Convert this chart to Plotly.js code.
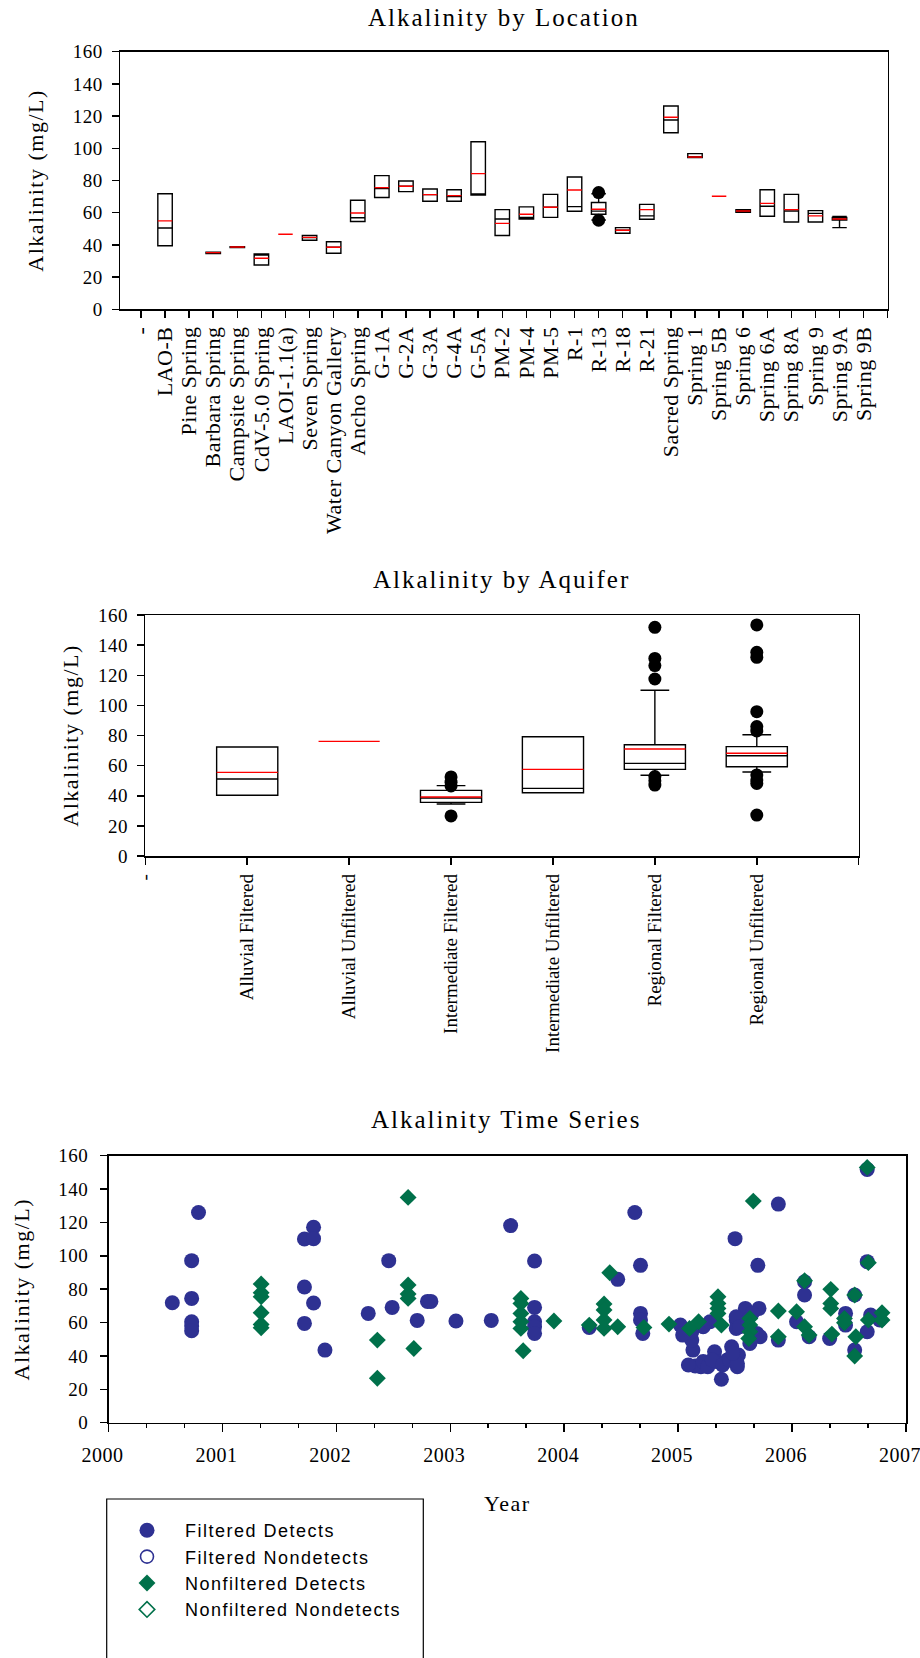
<!DOCTYPE html>
<html>
<head>
<meta charset="utf-8">
<script src="https://cdn.plot.ly/plotly-3.0.1.min.js"></script>
<style>
  html, body { margin: 0; padding: 0; background: #fff; }
  #chart { width: 920px; height: 1658px; }
  text[class*="title"] { letter-spacing: 1.5px; }
  .annotation-text { letter-spacing: 2px; }
  .legendtext { letter-spacing: 1.5px; }
  .xtick text { letter-spacing: 0.5px; }
  .ytick text, .y2tick text, .y3tick text, .x3tick text { letter-spacing: 0.5px; }
</style>
</head>
<body>
<div id="chart"></div>
<script>
// ---------- Alkalinity by Location ----------
const locations = ["-", "LAO-B", "Pine Spring", "Barbara Spring", "Campsite Spring", "CdV-5.0 Spring",
  "LAOI-1.1(a)", "Seven Spring", "Water Canyon Gallery", "Ancho Spring", "G-1A", "G-2A", "G-3A", "G-4A",
  "G-5A", "PM-2", "PM-4", "PM-5", "R-1", "R-13", "R-18", "R-21", "Sacred Spring", "Spring 1",
  "Spring 5B", "Spring 6", "Spring 6A", "Spring 8A", "Spring 9", "Spring 9A", "Spring 9B"];
const locQ1 =     [null, 39.5, null, 34.6, 38.3, 27.5, null, 42.9, 34.8, 54.5, 69.4, 73.1, 67.1, 67.1, 71.0, 45.8, 56.1, 57.1, 60.9, 59.0, 47.2, 55.9, 109.7, 94.2, null, 60.2, 57.8, 54.2, 54.2, 55.5, null];
const locMedian = [null, 50.5, null, 35.0, 38.6, 33.7, null, 44.5, 38.5, 56.9, 75.0, 76.4, 71.2, 70.0, 71.2, 56.1, 57.0, 63.4, 63.8, 61.0, 49.1, 58.0, 117.6, 94.6, null, 61.1, 64.0, 61.1, 59.6, 56.1, null];
const locQ3 =     [null, 71.8, null, 35.4, 38.9, 34.4, null, 45.8, 42.0, 67.7, 83.0, 79.7, 74.7, 74.3, 104.1, 61.9, 63.6, 71.4, 82.2, 66.3, 50.7, 65.2, 126.3, 96.7, null, 61.9, 74.3, 71.4, 61.3, 57.1, null];
const locLowerWhisker = [null, 39.5, null, 34.6, 38.3, 27.5, null, 42.9, 34.8, 54.5, 69.4, 73.1, 67.1, 67.1, 71.0, 45.8, 56.1, 57.1, 60.9, 55.5, 47.2, 55.9, 109.7, 94.2, null, 60.2, 57.8, 54.2, 54.2, 50.7, null];
const locUpperWhisker = [null, 71.8, null, 35.4, 38.9, 34.4, null, 45.8, 42.0, 67.7, 83.0, 79.7, 74.7, 74.3, 104.1, 61.9, 63.6, 71.4, 82.2, 71.8, 50.7, 65.2, 126.3, 96.7, null, 61.9, 74.3, 71.4, 61.3, 57.6, null];
const locMean =   [null, 54.9, null, 35.2, 38.7, 31.7, 46.6, 44.7, 38.5, 59.8, 75.6, 76.4, 71.2, 70.6, 84.3, 53.4, 59.0, 63.4, 74.1, 62.1, 49.1, 61.9, 119.3, 94.6, 70.2, 61.1, 65.8, 61.9, 58.0, 56.1, null];
const locOutlierSite =  ["R-13", "R-13"];
const locOutlierValue = [72.5, 55.3];

// ---------- Alkalinity by Aquifer ----------
const aquifers = ["-", "Alluvial Filtered", "Alluvial Unfiltered", "Intermediate Filtered",
  "Intermediate Unfiltered", "Regional Filtered", "Regional Unfiltered"];
const aqQ1 =     [null, 40.3, null, 35.6, 42.0, 57.5, 59.3];
const aqMedian = [null, 51.1, null, 38.5, 44.9, 61.5, 66.6];
const aqQ3 =     [null, 72.4, null, 43.6, 79.2, 73.9, 72.6];
const aqLowerWhisker = [null, 40.3, null, 34.5, 42.0, 53.6, 55.8];
const aqUpperWhisker = [null, 72.4, null, 46.7, 79.2, 110.0, 80.5];
const aqMean =   [null, 55.5, 76.1, 39.2, 57.5, 71.0, 68.2];
const aqOutlierGroup = ["Intermediate Filtered", "Intermediate Filtered", "Intermediate Filtered", "Intermediate Filtered",
  "Regional Filtered", "Regional Filtered", "Regional Filtered", "Regional Filtered", "Regional Filtered", "Regional Filtered", "Regional Filtered",
  "Regional Unfiltered", "Regional Unfiltered", "Regional Unfiltered", "Regional Unfiltered", "Regional Unfiltered",
  "Regional Unfiltered", "Regional Unfiltered", "Regional Unfiltered", "Regional Unfiltered", "Regional Unfiltered"];
const aqOutlierValue = [52.5, 49.0, 46.5, 26.6,
  151.8, 131.2, 126.4, 117.5, 52.7, 50.0, 47.1,
  153.4, 135.2, 131.9, 95.8, 85.9, 83.0, 53.8, 50.5, 48.2, 27.2];

// ---------- Alkalinity Time Series ----------
const years = [2000, 2001, 2002, 2003, 2004, 2005, 2006, 2007];
const filteredYear = [2000.56, 2000.73, 2000.73, 2000.73, 2000.73, 2000.73, 2000.79,
  2001.72, 2001.80, 2001.80, 2001.72, 2001.80, 2001.72, 2001.90,
  2002.28, 2002.46, 2002.49, 2002.71, 2002.80, 2002.83, 2003.05,
  2003.36, 2003.53, 2003.74, 2003.74, 2003.74, 2003.74, 2003.74,
  2004.22, 2004.47, 2004.62, 2004.67, 2004.67, 2004.67, 2004.69,
  2005.02, 2005.04, 2005.13, 2005.15, 2005.20, 2005.22, 2005.32, 2005.34, 2005.38, 2005.43, 2005.47,
  2005.50, 2005.51, 2005.51, 2005.53, 2005.52, 2005.59, 2005.70, 2005.71, 2005.69, 2005.72, 2005.63,
  2005.09, 2005.26, 2005.30, 2005.39, 2005.45, 2005.52, 2005.48, 2005.12, 2005.22, 2005.28, 2005.51,
  2005.54, 2005.65, 2005.61, 2005.12, 2005.05,
  2005.88, 2005.88, 2006.04, 2006.11, 2006.11, 2006.15, 2006.33, 2006.47, 2006.47, 2006.55, 2006.55,
  2006.66, 2006.66, 2006.66, 2006.69, 2006.77];
const filteredValue = [71.9, 97.1, 74.5, 60.5, 57.9, 55.1, 126.0,
  110.1, 117.1, 110.3, 81.3, 71.7, 59.5, 43.5,
  65.5, 97.1, 69.1, 61.3, 72.7, 72.7, 60.9,
  61.3, 118.1, 96.9, 69.1, 60.5, 57.5, 53.5,
  57.1, 85.9, 126.0, 94.3, 65.5, 61.5, 53.5,
  58.5, 52.5, 43.5, 34.0, 33.6, 36.6, 42.5, 36.6, 26.0, 37.6, 45.5,
  110.3, 61.5, 56.5, 40.6, 33.6, 68.5, 94.3, 68.5, 53.5, 51.5, 47.5,
  34.6, 33.6, 37.6, 34.6, 37.6, 35.6, 41.6, 49.5, 57.5, 60.5, 63.5,
  57.5, 65.5, 61.5, 54.5, 53.5,
  131.0, 49.5, 60.5, 84.5, 76.5, 51.5, 50.5, 65.5, 58.5, 76.5, 43.5,
  151.8, 96.5, 54.5, 64.5, 61.5];
const unfilteredYear = [2001.34, 2001.34, 2001.34, 2001.34, 2001.34, 2001.34,
  2002.36, 2002.36, 2002.63, 2002.63, 2002.63, 2002.63, 2002.68,
  2003.62, 2003.62, 2003.62, 2003.62, 2003.62, 2003.64, 2003.91,
  2004.22, 2004.35, 2004.35, 2004.35, 2004.35, 2004.40, 2004.47, 2004.70, 2004.92,
  2005.10, 2005.18, 2005.35, 2005.35, 2005.35, 2005.35, 2005.38,
  2005.66, 2005.63, 2005.63, 2005.63, 2005.62, 2005.88, 2005.88,
  2006.04, 2006.11, 2006.11, 2006.15, 2006.34, 2006.34, 2006.34, 2006.35,
  2006.46, 2006.46, 2006.55, 2006.56, 2006.55, 2006.66, 2006.67, 2006.67, 2006.79, 2006.79];
const unfilteredValue = [83.1, 77.9, 75.5, 65.9, 58.9, 56.9,
  49.5, 26.6, 135.0, 82.5, 77.1, 74.5, 44.5,
  74.5, 71.5, 65.5, 60.5, 56.5, 43.1, 60.9,
  58.5, 71.1, 67.5, 61.5, 56.5, 89.9, 57.5, 57.1, 59.1,
  56.5, 60.5, 75.5, 71.5, 68.5, 65.5, 58.5,
  132.8, 62.5, 58.5, 54.5, 50.5, 66.9, 51.5,
  66.5, 85.1, 57.5, 52.5, 79.9, 71.5, 68.5, 53.1,
  62.5, 59.9, 76.5, 51.5, 40.0, 153.0, 95.9, 61.5, 65.9, 61.5];
// Nondetect series exist in the legend but carry no measured points
const filteredNondetectYear = [null], filteredNondetectValue = [null];
const unfilteredNondetectYear = [null], unfilteredNondetectValue = [null];
const legendNames = ["Filtered Detects", "Filtered Nondetects", "Nonfiltered Detects", "Nonfiltered Nondetects"];

// ---------- helpers ----------
const BLUE = "#2e3192", GREEN = "#00704a", RED = "#ff0000";
const SERIF = "Liberation Serif";
function boxTrace(q1, med, q3, lo, hi, xa, ya, ww) {
  const idx = q1.map((v, i) => v === null ? -1 : i).filter(i => i >= 0);
  return {
    type: "box", xaxis: xa, yaxis: ya, showlegend: false, hoverinfo: "skip",
    x: idx, q1: idx.map(i => q1[i]), median: idx.map(i => med[i]), q3: idx.map(i => q3[i]),
    lowerfence: idx.map(i => lo[i]), upperfence: idx.map(i => hi[i]),
    width: 0.6, whiskerwidth: ww, boxpoints: false,
    line: {color: "#000", width: 1.4}, fillcolor: "rgba(0,0,0,0)"
  };
}
function meanTrace(mean, xa, ya) {
  const xs = [], ys = [];
  mean.forEach((m, i) => { if (m !== null) { xs.push(i - 0.3, i + 0.3, null); ys.push(m, m, null); } });
  return {type: "scatter", mode: "lines", x: xs, y: ys, xaxis: xa, yaxis: ya, showlegend: false,
    hoverinfo: "skip", line: {color: RED, width: 1.4}};
}
function outlierTrace(groups, values, cats, xa, ya) {
  return {type: "scatter", mode: "markers", x: groups.map(g => cats.indexOf(g)), y: values,
    xaxis: xa, yaxis: ya, showlegend: false, hoverinfo: "skip",
    marker: {color: "#000", size: 13, symbol: "circle"}};
}

const traces = [
  boxTrace(locQ1, locMedian, locQ3, locLowerWhisker, locUpperWhisker, "x", "y", 1),
  meanTrace(locMean, "x", "y"),
  outlierTrace(locOutlierSite, locOutlierValue, locations, "x", "y"),
  boxTrace(aqQ1, aqMedian, aqQ3, aqLowerWhisker, aqUpperWhisker, "x2", "y2", 0.47),
  meanTrace(aqMean, "x2", "y2"),
  outlierTrace(aqOutlierGroup, aqOutlierValue, aquifers, "x2", "y2"),
  {type: "scatter", mode: "markers", name: legendNames[0], x: filteredYear, y: filteredValue,
   xaxis: "x3", yaxis: "y3", marker: {color: BLUE, size: 15, symbol: "circle"}},
  {type: "scatter", mode: "markers", name: legendNames[1], x: filteredNondetectYear, y: filteredNondetectValue,
   xaxis: "x3", yaxis: "y3", marker: {color: BLUE, size: 13, symbol: "circle-open", line: {width: 1.6}}},
  {type: "scatter", mode: "markers", name: legendNames[2], x: unfilteredYear, y: unfilteredValue,
   xaxis: "x3", yaxis: "y3", marker: {color: GREEN, size: 13, symbol: "diamond"}},
  {type: "scatter", mode: "markers", name: legendNames[3], x: unfilteredNondetectYear, y: unfilteredNondetectValue,
   xaxis: "x3", yaxis: "y3", marker: {color: GREEN, size: 12, symbol: "diamond-open", line: {width: 1.6}}}
];

const H = 1658, W = 920;
const px = v => v / W, py = v => 1 - v / H;
function axisBase(fontSize) {
  return {showline: true, mirror: true, linecolor: "#000", linewidth: 1.5, ticks: "outside",
    ticklen: 7, tickcolor: "#000", tickwidth: 1.5, showgrid: false, zeroline: false,
    tickfont: {family: SERIF, size: fontSize, color: "#000"}};
}
function yAxis(domain, anchor, standoff, labelGap) {
  return Object.assign(axisBase(19), {domain: domain, anchor: anchor, range: [0, 160], dtick: 20, tick0: 0,
    ticklabelstandoff: labelGap,
    title: {text: "Alkalinity (mg/L)", standoff: standoff, font: {family: SERIF, size: 22, color: "#000"}}});
}

const topTicks = locations.map((_, i) => i).concat([31]);
const midTicks = aquifers.map((_, i) => i).concat([7]);
const titleFont = {family: SERIF, size: 25, color: "#000"};

const layout = {
  width: W, height: H, margin: {l: 0, r: 0, t: 0, b: 0},
  paper_bgcolor: "#fff", plot_bgcolor: "#fff",
  font: {family: SERIF, color: "#000"},
  xaxis: Object.assign(axisBase(22), {domain: [px(120), px(887.7)], anchor: "y", range: [-0.87, 31],
    tickmode: "array", tickvals: topTicks, ticktext: locations.concat([""]), tickangle: -90, ticklabelstandoff: 0}),
  yaxis: yAxis([py(309.3), py(51.7)], "x", 23, 5),
  xaxis2: Object.assign(axisBase(19), {domain: [px(145.3), px(858.7)], anchor: "y2", range: [0, 7],
    tickmode: "array", tickvals: midTicks, ticktext: aquifers.concat([""]), tickangle: -90, ticklabelstandoff: 2}),
  yaxis2: yAxis([py(856), py(615)], "x2", 13, 5),
  xaxis3: Object.assign(axisBase(20), {domain: [px(108.5), px(906)], anchor: "y3", range: [2000, 2007.0005],
    tickmode: "array", tickvals: years, ticktext: years.map(String), ticklen: 8, ticklabelstandoff: 6,
    ticklabelshift: -6, ticklabeloverflow: "allow",
    minor: {tickmode: "linear", dtick: 1 / 3, tick0: 2000, ticks: "outside", ticklen: 4, tickcolor: "#000", tickwidth: 1.5, showgrid: false},
    title: {text: "Year", standoff: 30, font: {family: SERIF, size: 22, color: "#000"}}}),
  yaxis3: yAxis([py(1422.7), py(1155.7)], "x3", 22, 8),
  annotations: [
    {text: "Alkalinity by Location", xref: "paper", yref: "paper", x: px(504), y: py(18), showarrow: false,
     xanchor: "center", yanchor: "middle", font: titleFont},
    {text: "Alkalinity by Aquifer", xref: "paper", yref: "paper", x: px(502), y: py(580), showarrow: false,
     xanchor: "center", yanchor: "middle", font: titleFont},
    {text: "Alkalinity Time Series", xref: "paper", yref: "paper", x: px(506), y: py(1119), showarrow: false,
     xanchor: "center", yanchor: "middle", font: titleFont}
  ],
  shapes: [
    {type: "rect", xref: "paper", yref: "paper", x0: px(106.7), x1: px(423.3), y0: -0.05, y1: py(1499),
     line: {color: "#000", width: 1.2}, fillcolor: "rgba(0,0,0,0)"}
  ],
  showlegend: true,
  legend: {x: px(109), y: py(1512), xanchor: "left", yanchor: "top", bgcolor: "rgba(0,0,0,0)",
    borderwidth: 0, itemwidth: 66, tracegroupgap: 0,
    font: {family: "Liberation Sans", size: 18, color: "#000"}}
};

Plotly.newPlot("chart", traces, layout, {staticPlot: true, displayModeBar: false});
</script>
</body>
</html>
